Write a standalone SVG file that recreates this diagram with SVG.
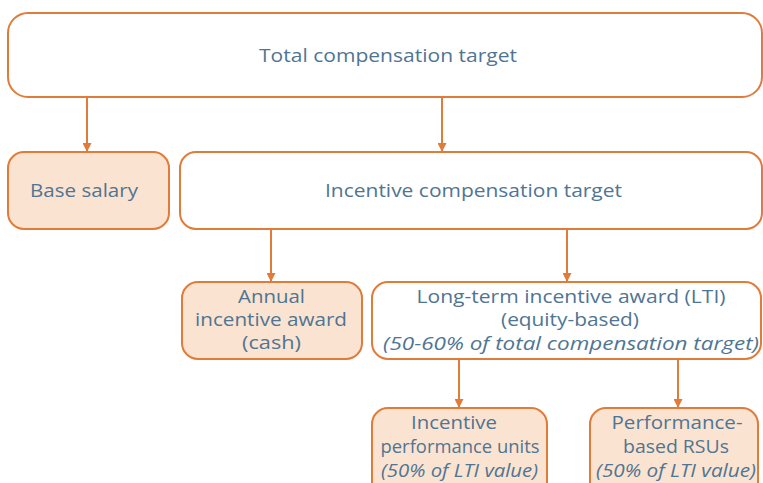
<svg xmlns="http://www.w3.org/2000/svg" width="763" height="483" viewBox="0 0 763 483">
<defs>
<marker id="ah" viewBox="0 0 10 10" refX="10" refY="5" markerWidth="9" markerHeight="9" markerUnits="userSpaceOnUse" orient="auto">
<path d="M0,0 L10,5 L0,10 z" fill="#e07b39"/>
</marker>
<style>
.box{fill:#ffffff;stroke:#e07b39;stroke-width:2}
.fill{fill:#fbe3d1;stroke:#e07b39;stroke-width:2}
.t{font-family:"Open Sans","Liberation Sans",sans-serif;font-size:18px;fill:#4f7593;text-anchor:middle}
.i{font-style:italic}
.c{stroke:#e07b39;stroke-width:2;fill:none;marker-end:url(#ah)}
</style>
</defs>
<rect width="763" height="483" fill="#ffffff"/>
<g id="connectors">
<line class="c" x1="87" y1="97" x2="87" y2="152"/>
<line class="c" x1="442" y1="97" x2="442" y2="152"/>
<line class="c" x1="271" y1="229" x2="271" y2="282"/>
<line class="c" x1="567" y1="229" x2="567" y2="282"/>
<line class="c" x1="459" y1="359" x2="459" y2="408"/>
<line class="c" x1="678" y1="359" x2="678" y2="408"/>
</g>
<g id="total">
<rect class="box" x="8" y="13" width="754" height="84" rx="20"/>
<text class="t" x="388" y="62" font-size="20" textLength="258" lengthAdjust="spacingAndGlyphs">Total compensation target</text>
</g>
<g id="base">
<rect class="fill" x="8" y="152" width="161" height="77" rx="16"/>
<text class="t" x="84" y="197" font-size="19" textLength="108" lengthAdjust="spacingAndGlyphs">Base salary</text>
</g>
<g id="incentive">
<rect class="box" x="180" y="152" width="582" height="77" rx="16"/>
<text class="t" x="473.5" y="197" font-size="19" textLength="297" lengthAdjust="spacingAndGlyphs">Incentive compensation target</text>
</g>
<g id="annual">
<rect class="fill" x="182" y="282" width="180" height="77" rx="16"/>
<text class="t" x="271.5" y="303" textLength="67" lengthAdjust="spacingAndGlyphs">Annual</text>
<text class="t" x="271" y="326" textLength="152" lengthAdjust="spacingAndGlyphs">incentive award</text>
<text class="t" x="271.5" y="349" textLength="59" lengthAdjust="spacingAndGlyphs">(cash)</text>
</g>
<g id="lti">
<rect class="box" x="372" y="282" width="389" height="77" rx="16"/>
<text class="t" x="571" y="303" textLength="309" lengthAdjust="spacingAndGlyphs">Long-term incentive award (LTI)</text>
<text class="t" x="570" y="326" textLength="138" lengthAdjust="spacingAndGlyphs">(equity-based)</text>
<text class="t i" x="571" y="350" textLength="376" lengthAdjust="spacingAndGlyphs">(50-60% of total compensation target)</text>
</g>
<g id="ipu">
<rect class="fill" x="372" y="408" width="175" height="90" rx="16"/>
<text class="t" x="454" y="429" textLength="86" lengthAdjust="spacingAndGlyphs">Incentive</text>
<text class="t" x="460" y="453" textLength="159" lengthAdjust="spacingAndGlyphs">performance units</text>
<text class="t i" x="459.5" y="477" textLength="157" lengthAdjust="spacingAndGlyphs">(50% of LTI value)</text>
</g>
<g id="prsu">
<rect class="fill" x="590" y="408" width="168" height="90" rx="16"/>
<text class="t" x="677" y="429" textLength="131" lengthAdjust="spacingAndGlyphs">Performance-</text>
<text class="t" x="676" y="453" textLength="106" lengthAdjust="spacingAndGlyphs">based RSUs</text>
<text class="t i" x="676" y="477" textLength="160" lengthAdjust="spacingAndGlyphs">(50% of LTI value)</text>
</g>
</svg>
